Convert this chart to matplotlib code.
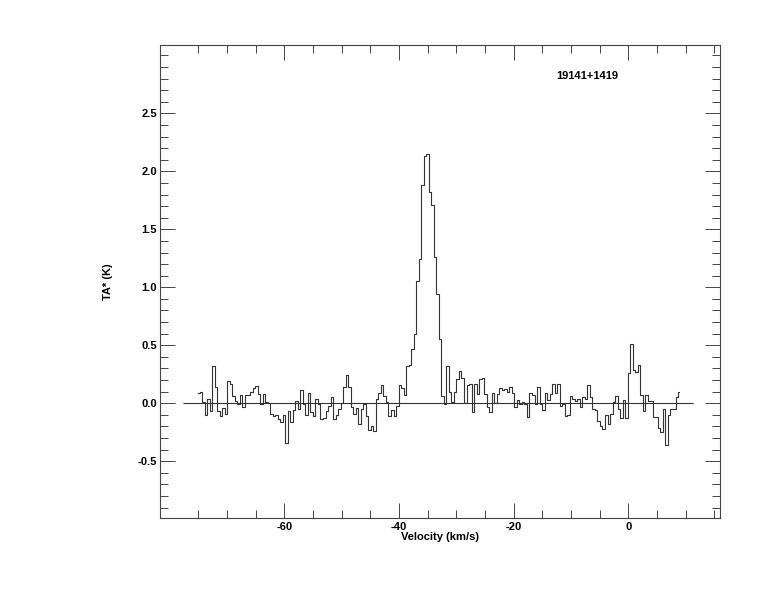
import numpy as np
import matplotlib
matplotlib.use('Agg')
import matplotlib.pyplot as plt
from matplotlib.ticker import FixedLocator, FormatStrFormatter

plt.rcParams['font.family'] = ['Liberation Sans', 'DejaVu Sans']

# spectrum of 19141+1419, channel centres from v_first to v_last
v_first = -75.0
v_last = 8.9
ta = [0.09, 0.10, 0.01, -0.10, 0.04, -0.07, 0.32, 0.14, -0.07, -0.11,
      -0.04, -0.09, 0.19, 0.17, 0.06, 0.02, -0.01, 0.07, -0.03, 0.07,
      0.07, 0.10, 0.13, 0.15, 0.08, -0.01, 0.08, 0.01, 0.00, -0.09,
      -0.11, -0.10, -0.14, -0.16, -0.10, -0.34, -0.07, -0.16, -0.06, 0.02,
      -0.05, 0.11, -0.01, -0.10, 0.09, -0.08, -0.11, 0.04, -0.01, -0.14,
      -0.13, -0.07, -0.02, 0.05, -0.14, -0.10, -0.05, 0.00, 0.14, 0.24,
      0.14, -0.03, -0.09, -0.04, -0.18, -0.05, -0.01, -0.11, -0.23, -0.20,
      -0.24, 0.04, 0.09, 0.16, 0.06, 0.01, -0.11, -0.06, -0.11, -0.02,
      0.16, 0.13, 0.07, 0.32, 0.33, 0.47, 0.60, 1.05, 1.24, 1.88,
      2.13, 2.15, 1.82, 1.71, 1.26, 0.94, 0.55, 0.06, -0.01, 0.32,
      0.10, 0.01, 0.10, 0.21, 0.28, 0.22, 0.00, 0.16, 0.17, -0.08,
      0.17, 0.08, 0.21, 0.22, 0.08, -0.03, -0.08, 0.09, 0.00, 0.08,
      0.13, 0.11, 0.12, 0.10, 0.14, 0.09, -0.03, 0.03, -0.01, 0.01,
      -0.01, -0.12, 0.09, 0.07, -0.01, 0.14, -0.01, -0.06, 0.09, 0.03,
      0.08, 0.17, 0.09, 0.17, -0.02, -0.01, -0.11, -0.10, 0.06, 0.04,
      0.02, 0.04, -0.03, 0.05, 0.04, 0.16, 0.05, -0.05, -0.06, -0.15,
      -0.20, -0.22, -0.10, -0.18, -0.09, 0.01, 0.06, -0.05, -0.13, 0.03,
      -0.13, 0.26, 0.51, 0.29, 0.27, 0.33, 0.07, -0.07, 0.07, 0.02,
      0.02, -0.12, -0.12, -0.21, -0.25, -0.05, -0.36, -0.10, -0.05, -0.05,
      0.05, 0.10]
baseline_v = [-77.7, 11.3]
source = '19141+1419'

# tick positions as drawn in the original (IDL style)
x_major = [-60, -40, -20, 0]
x_minor = [-75, -70, -65, -55, -50, -45, -35, -30, -25, -15, -10, -5, 5, 10, 15]
y_major = [-0.5, 0.0, 0.5, 1.0, 1.5, 2.0, 2.5]

vel = np.linspace(v_first, v_last, len(ta))

fig = plt.figure(figsize=(7.74, 6.12), dpi=100)
ax = fig.add_axes([0.2067, 0.1536, 0.7235, 0.7729])

ax.step(vel, ta, where='mid', color='#333333', lw=0.8)
ax.hlines(0, baseline_v[0], baseline_v[1], color='#333333', lw=0.8)

ax.set_xlim(-81.7, 16.0)
ax.set_ylim(-0.99, 3.09)

y_minor = [round(t, 1) for t in np.arange(-0.9, 3.05, 0.1)
           if min(abs(t - m) for m in y_major) > 0.01]
ax.xaxis.set_major_locator(FixedLocator(x_major))
ax.xaxis.set_minor_locator(FixedLocator(x_minor))
ax.yaxis.set_major_locator(FixedLocator(y_major))
ax.yaxis.set_minor_locator(FixedLocator(y_minor))
ax.tick_params(which='both', direction='in', top=True, right=True,
               width=0.7, color='#444444', labelsize=8)
ax.tick_params(axis='x', pad=3)
ax.tick_params(axis='y', pad=2)
ax.tick_params(which='major', length=11)
ax.tick_params(which='minor', length=6)
ax.xaxis.set_major_formatter(FormatStrFormatter('%d'))
ax.yaxis.set_major_formatter(FormatStrFormatter('%.1f'))
for lab in ax.get_xticklabels() + ax.get_yticklabels():
    lab.set_fontweight('bold')
for s in ax.spines.values():
    s.set_linewidth(0.8)
    s.set_color('#444444')

ax.set_xlabel('Velocity (km/s)', fontsize=8, fontweight='bold', labelpad=0)
ax.set_ylabel('TA* (K)', fontsize=8, fontweight='bold', labelpad=18)
ax.text(0.7625, 0.934, source, transform=ax.transAxes, fontsize=8,
        fontweight='bold', ha='center', va='center')

fig.savefig('out.png', dpi=100)
